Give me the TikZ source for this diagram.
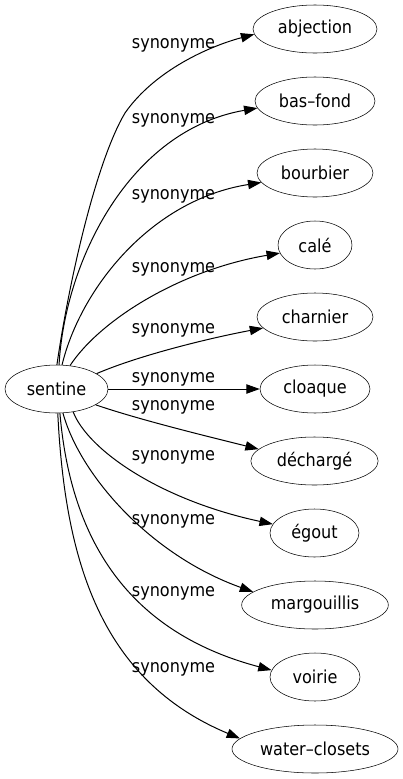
\documentclass[tikz,border=0pt]{standalone}
\usepackage{fontspec}
\setmainfont{DejaVu Sans}[FakeStretch=0.9]
\usetikzlibrary{shapes.geometric,arrows.meta}
\tikzset{
  word/.style={draw, ellipse, inner sep=0pt, minimum height=36pt, font=\fontsize{13.4}{15}\selectfont},
  rel/.style={draw, line width=0.75pt, -{Triangle[length=10pt,width=7pt]}},
  lbl/.style={font=\fontsize{13.4}{15}\selectfont, inner sep=0pt}
}
\begin{document}
\begin{tikzpicture}[x=0.75pt,y=-0.75pt]
\useasboundingbox (0,0) rectangle (403,779);
\node[word, minimum width=77.25pt] (sentine) at (56.5,389) {sentine};
\node[word, minimum width=93pt] (abjection) at (315,29) {abjection};
\node[word, minimum width=90pt] (basfond) at (315,101) {bas–fond};
\node[word, minimum width=87pt] (bourbier) at (315,173) {bourbier};
\node[word, minimum width=55.5pt] (cale) at (315,245) {calé};
\node[word, minimum width=87pt] (charnier) at (315,317) {charnier};
\node[word, minimum width=82.5pt] (cloaque) at (315,389) {cloaque};
\node[word, minimum width=95.5pt] (decharge) at (314.5,461) {déchargé};
\node[word, minimum width=66.75pt] (egout) at (314.5,533) {égout};
\node[word, minimum width=110pt] (margouillis) at (315,605) {margouillis};
\node[word, minimum width=67.5pt] (voirie) at (315,677) {voirie};
\node[word, minimum width=124.5pt] (waterclosets) at (315,749) {water–closets};

\draw[rel] (sentine.89) .. controls (70,275) and (97,160) .. (125,113) .. controls (155,70) and (210,46) .. (abjection.185);
\draw[rel] (sentine.84) .. controls (65,260) and (130,130) .. (basfond.187);
\draw[rel] (sentine.77) .. controls (80,290) and (150,200) .. (bourbier.190);
\draw[rel] (sentine.60) .. controls (100,320) and (180,270) .. (cale.193);
\draw[rel] (sentine.21) .. controls (140,355) and (210,338) .. (charnier.192);
\draw[rel] (sentine.east) -- (cloaque.west);
\draw[rel] (sentine.-22) .. controls (140,420) and (210,437) .. (decharge.168);
\draw[rel] (sentine.-54) .. controls (88,450) and (160,500) .. (egout.168);
\draw[rel] (sentine.-75) .. controls (80,475) and (150,555) .. (margouillis.168);
\draw[rel] (sentine.-82) .. controls (70,530) and (120,630) .. (voirie.171);
\draw[rel] (sentine.-87) .. controls (65,560) and (100,680) .. (waterclosets.172);

\node[lbl] (l1) at (173.5,45) {synonyme};
\node[lbl] (l2) at (173.5,120) {synonyme};
\node[lbl] (l3) at (173.5,196) {synonyme};
\node[lbl] (l4) at (173.5,269) {synonyme};
\node[lbl] (l5) at (173.5,330) {synonyme};
\node[lbl] (l6) at (173.5,379) {synonyme};
\node[lbl] (l7) at (173.5,407) {synonyme};
\node[lbl] (l8) at (173.5,457) {synonyme};
\node[lbl] (l9) at (173.5,521.5) {synonyme};
\node[lbl] (l10) at (173.5,593.5) {synonyme};
\node[lbl] (l11) at (173.5,669) {synonyme};
\end{tikzpicture}
\end{document}
